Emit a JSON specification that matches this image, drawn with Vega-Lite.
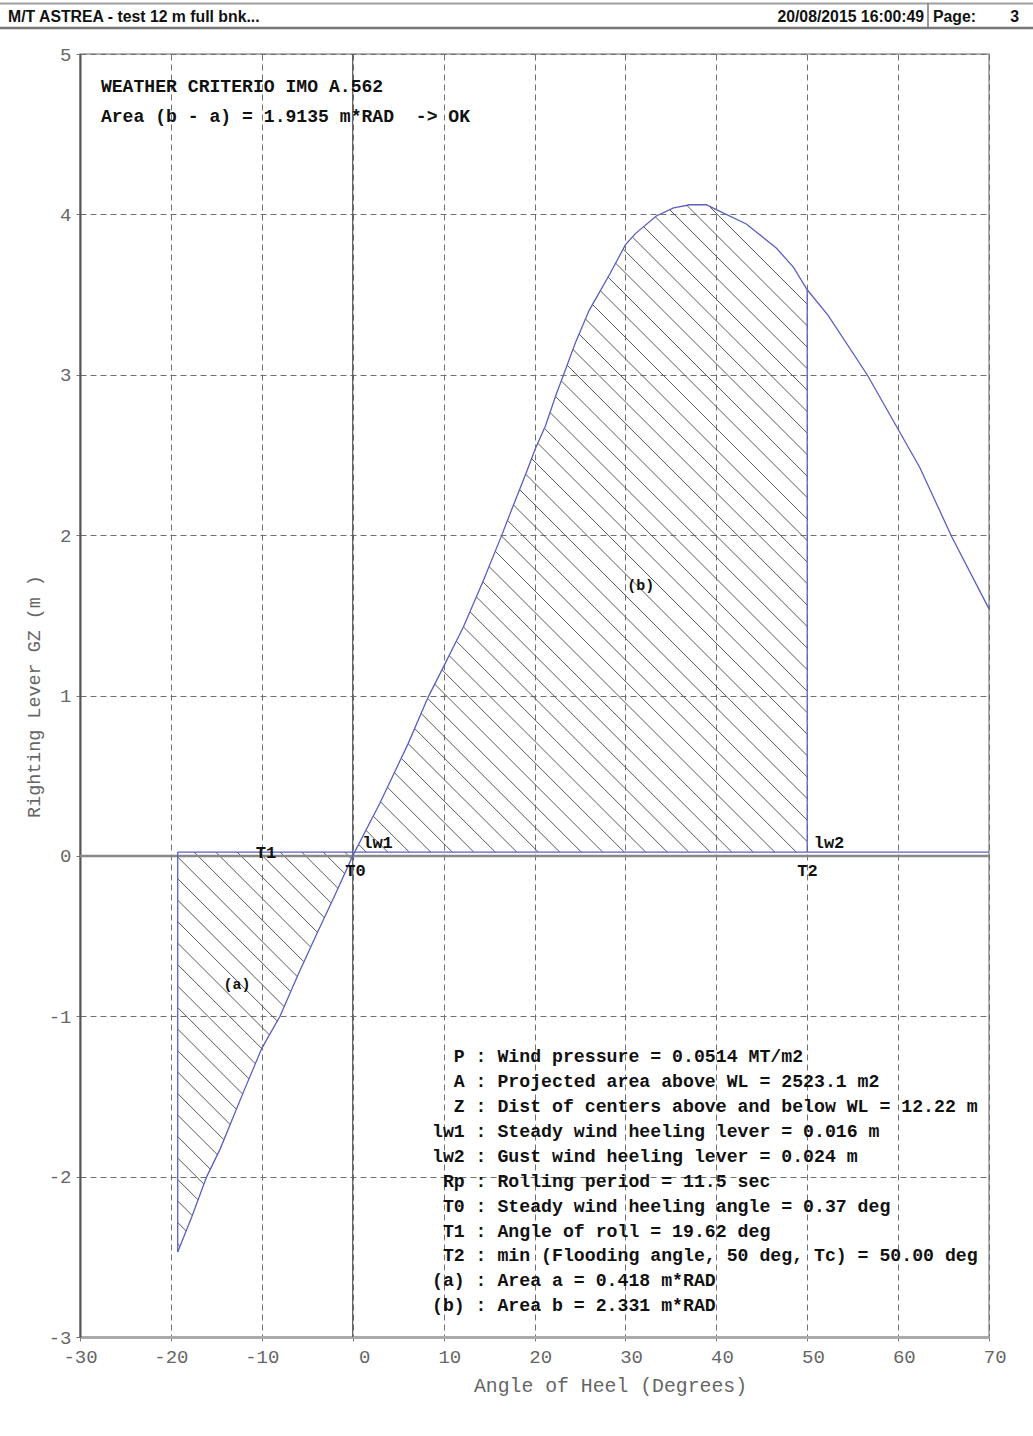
{
  "$schema": "https://vega.github.io/schema/vega-lite/v6.json",
  "width": 909,
  "height": 1283,
  "autosize": {"type": "none"},
  "padding": {"left": 80, "top": 54, "right": 44, "bottom": 99},
  "background": "white",
  "config": {
    "view": {"stroke": "#999999", "strokeWidth": 1.5}
  },
  "datasets": {
    "gz": [
      {"angle": -19.25, "gz": -2.47}, {"angle": -17.7, "gz": -2.25}, {"angle": -16.06, "gz": -2.0},
      {"angle": -14.6, "gz": -1.83}, {"angle": -12, "gz": -1.47}, {"angle": -10, "gz": -1.2},
      {"angle": -8, "gz": -1.0}, {"angle": -6, "gz": -0.74}, {"angle": -4.15, "gz": -0.51},
      {"angle": -2, "gz": -0.25}, {"angle": 0, "gz": 0}, {"angle": 3, "gz": 0.33},
      {"angle": 6.1, "gz": 0.7}, {"angle": 8.3, "gz": 0.99}, {"angle": 10, "gz": 1.18},
      {"angle": 12.2, "gz": 1.43}, {"angle": 14.4, "gz": 1.72}, {"angle": 16.4, "gz": 2.0},
      {"angle": 17.7, "gz": 2.19}, {"angle": 19.1, "gz": 2.39}, {"angle": 20.1, "gz": 2.54},
      {"angle": 21.2, "gz": 2.68}, {"angle": 22.4, "gz": 2.88}, {"angle": 23.2, "gz": 3.0},
      {"angle": 24.5, "gz": 3.2}, {"angle": 26, "gz": 3.4}, {"angle": 27.2, "gz": 3.52},
      {"angle": 28.3, "gz": 3.63}, {"angle": 30, "gz": 3.81}, {"angle": 31.1, "gz": 3.88},
      {"angle": 33.4, "gz": 3.99}, {"angle": 35.3, "gz": 4.04}, {"angle": 37.1, "gz": 4.06},
      {"angle": 38.9, "gz": 4.06}, {"angle": 40, "gz": 4.03}, {"angle": 43.3, "gz": 3.94},
      {"angle": 46.6, "gz": 3.79}, {"angle": 48.5, "gz": 3.67}, {"angle": 50, "gz": 3.53},
      {"angle": 52.3, "gz": 3.37}, {"angle": 56.6, "gz": 3.0}, {"angle": 60, "gz": 2.66},
      {"angle": 62.4, "gz": 2.42}, {"angle": 65.9, "gz": 1.99}, {"angle": 70, "gz": 1.54}
    ],
    "hatch": [
      {"area": "b", "angle_from": 0.65, "gz_from": 0.071, "angle_to": 1.49, "gz_to": 0.024},
      {"area": "b", "angle_from": 1.45, "gz_from": 0.16, "angle_to": 3.85, "gz_to": 0.024},
      {"area": "b", "angle_from": 2.26, "gz_from": 0.248, "angle_to": 6.22, "gz_to": 0.024},
      {"area": "b", "angle_from": 3.06, "gz_from": 0.337, "angle_to": 8.58, "gz_to": 0.024},
      {"area": "b", "angle_from": 3.82, "gz_from": 0.428, "angle_to": 10.95, "gz_to": 0.024},
      {"area": "b", "angle_from": 4.58, "gz_from": 0.519, "angle_to": 13.31, "gz_to": 0.024},
      {"area": "b", "angle_from": 5.34, "gz_from": 0.609, "angle_to": 15.68, "gz_to": 0.024},
      {"area": "b", "angle_from": 6.1, "gz_from": 0.7, "angle_to": 18.04, "gz_to": 0.024},
      {"area": "b", "angle_from": 6.82, "gz_from": 0.794, "angle_to": 20.41, "gz_to": 0.024},
      {"area": "b", "angle_from": 7.53, "gz_from": 0.888, "angle_to": 22.77, "gz_to": 0.024},
      {"area": "b", "angle_from": 8.24, "gz_from": 0.982, "angle_to": 25.14, "gz_to": 0.024},
      {"area": "b", "angle_from": 9.02, "gz_from": 1.071, "angle_to": 27.5, "gz_to": 0.024},
      {"area": "b", "angle_from": 9.82, "gz_from": 1.16, "angle_to": 29.87, "gz_to": 0.024},
      {"area": "b", "angle_from": 10.61, "gz_from": 1.249, "angle_to": 32.23, "gz_to": 0.024},
      {"area": "b", "angle_from": 11.39, "gz_from": 1.339, "angle_to": 34.6, "gz_to": 0.024},
      {"area": "b", "angle_from": 12.18, "gz_from": 1.428, "angle_to": 36.96, "gz_to": 0.024},
      {"area": "b", "angle_from": 12.9, "gz_from": 1.522, "angle_to": 39.33, "gz_to": 0.024},
      {"area": "b", "angle_from": 13.61, "gz_from": 1.615, "angle_to": 41.69, "gz_to": 0.024},
      {"area": "b", "angle_from": 14.32, "gz_from": 1.709, "angle_to": 44.06, "gz_to": 0.024},
      {"area": "b", "angle_from": 15.0, "gz_from": 1.804, "angle_to": 46.42, "gz_to": 0.024},
      {"area": "b", "angle_from": 15.68, "gz_from": 1.9, "angle_to": 48.79, "gz_to": 0.024},
      {"area": "b", "angle_from": 16.37, "gz_from": 1.995, "angle_to": 50, "gz_to": 0.089},
      {"area": "b", "angle_from": 17.03, "gz_from": 2.092, "angle_to": 50, "gz_to": 0.223},
      {"area": "b", "angle_from": 17.69, "gz_from": 2.188, "angle_to": 50, "gz_to": 0.357},
      {"area": "b", "angle_from": 18.36, "gz_from": 2.284, "angle_to": 50, "gz_to": 0.491},
      {"area": "b", "angle_from": 19.03, "gz_from": 2.38, "angle_to": 50, "gz_to": 0.625},
      {"area": "b", "angle_from": 19.68, "gz_from": 2.477, "angle_to": 50, "gz_to": 0.759},
      {"area": "b", "angle_from": 20.36, "gz_from": 2.573, "angle_to": 50, "gz_to": 0.893},
      {"area": "b", "angle_from": 21.09, "gz_from": 2.666, "angle_to": 50, "gz_to": 1.027},
      {"area": "b", "angle_from": 21.71, "gz_from": 2.765, "angle_to": 50, "gz_to": 1.161},
      {"area": "b", "angle_from": 22.31, "gz_from": 2.865, "angle_to": 50, "gz_to": 1.296},
      {"area": "b", "angle_from": 22.95, "gz_from": 2.962, "angle_to": 50, "gz_to": 1.43},
      {"area": "b", "angle_from": 23.59, "gz_from": 3.06, "angle_to": 50, "gz_to": 1.564},
      {"area": "b", "angle_from": 24.23, "gz_from": 3.158, "angle_to": 50, "gz_to": 1.698},
      {"area": "b", "angle_from": 24.9, "gz_from": 3.254, "angle_to": 50, "gz_to": 1.832},
      {"area": "b", "angle_from": 25.61, "gz_from": 3.348, "angle_to": 50, "gz_to": 1.966},
      {"area": "b", "angle_from": 26.38, "gz_from": 3.438, "angle_to": 50, "gz_to": 2.1},
      {"area": "b", "angle_from": 27.24, "gz_from": 3.524, "angle_to": 50, "gz_to": 2.234},
      {"area": "b", "angle_from": 28.09, "gz_from": 3.609, "angle_to": 50, "gz_to": 2.368},
      {"area": "b", "angle_from": 28.92, "gz_from": 3.696, "angle_to": 50, "gz_to": 2.502},
      {"area": "b", "angle_from": 29.75, "gz_from": 3.784, "angle_to": 50, "gz_to": 2.636},
      {"area": "b", "angle_from": 30.77, "gz_from": 3.859, "angle_to": 50, "gz_to": 2.77},
      {"area": "b", "angle_from": 32.01, "gz_from": 3.923, "angle_to": 50, "gz_to": 2.904},
      {"area": "b", "angle_from": 33.29, "gz_from": 3.985, "angle_to": 50, "gz_to": 3.038},
      {"area": "b", "angle_from": 34.88, "gz_from": 4.029, "angle_to": 50, "gz_to": 3.172},
      {"area": "b", "angle_from": 36.76, "gz_from": 4.056, "angle_to": 50, "gz_to": 3.306},
      {"area": "b", "angle_from": 39.22, "gz_from": 4.051, "angle_to": 50, "gz_to": 3.44},
      {"area": "a", "angle_from": -0.88, "gz_from": 0.024, "angle_to": -0.14, "gz_to": -0.018},
      {"area": "a", "angle_from": -3.25, "gz_from": 0.024, "angle_to": -0.88, "gz_to": -0.11},
      {"area": "a", "angle_from": -5.61, "gz_from": 0.024, "angle_to": -1.62, "gz_to": -0.202},
      {"area": "a", "angle_from": -7.98, "gz_from": 0.024, "angle_to": -2.37, "gz_to": -0.294},
      {"area": "a", "angle_from": -10.34, "gz_from": 0.024, "angle_to": -3.12, "gz_to": -0.385},
      {"area": "a", "angle_from": -12.71, "gz_from": 0.024, "angle_to": -3.88, "gz_to": -0.477},
      {"area": "a", "angle_from": -15.07, "gz_from": 0.024, "angle_to": -4.62, "gz_to": -0.569},
      {"area": "a", "angle_from": -17.44, "gz_from": 0.024, "angle_to": -5.36, "gz_to": -0.661},
      {"area": "a", "angle_from": -19.25, "gz_from": -0.007, "angle_to": -6.1, "gz_to": -0.753},
      {"area": "a", "angle_from": -19.25, "gz_from": -0.142, "angle_to": -6.82, "gz_to": -0.846},
      {"area": "a", "angle_from": -19.25, "gz_from": -0.276, "angle_to": -7.54, "gz_to": -0.94},
      {"area": "a", "angle_from": -19.25, "gz_from": -0.41, "angle_to": -8.3, "gz_to": -1.03},
      {"area": "a", "angle_from": -19.25, "gz_from": -0.544, "angle_to": -9.16, "gz_to": -1.116},
      {"area": "a", "angle_from": -19.25, "gz_from": -0.678, "angle_to": -10.01, "gz_to": -1.201},
      {"area": "a", "angle_from": -19.25, "gz_from": -0.812, "angle_to": -10.71, "gz_to": -1.296},
      {"area": "a", "angle_from": -19.25, "gz_from": -0.946, "angle_to": -11.41, "gz_to": -1.39},
      {"area": "a", "angle_from": -19.25, "gz_from": -1.08, "angle_to": -12.11, "gz_to": -1.485},
      {"area": "a", "angle_from": -19.25, "gz_from": -1.214, "angle_to": -12.79, "gz_to": -1.58},
      {"area": "a", "angle_from": -19.25, "gz_from": -1.348, "angle_to": -13.48, "gz_to": -1.675},
      {"area": "a", "angle_from": -19.25, "gz_from": -1.482, "angle_to": -14.17, "gz_to": -1.77},
      {"area": "a", "angle_from": -19.25, "gz_from": -1.616, "angle_to": -14.89, "gz_to": -1.863},
      {"area": "a", "angle_from": -19.25, "gz_from": -1.75, "angle_to": -15.66, "gz_to": -1.954},
      {"area": "a", "angle_from": -19.25, "gz_from": -1.884, "angle_to": -16.37, "gz_to": -2.047},
      {"area": "a", "angle_from": -19.25, "gz_from": -2.018, "angle_to": -17.01, "gz_to": -2.145},
      {"area": "a", "angle_from": -19.25, "gz_from": -2.152, "angle_to": -17.65, "gz_to": -2.243},
      {"area": "a", "angle_from": -19.25, "gz_from": -2.286, "angle_to": -18.32, "gz_to": -2.339},
      {"area": "a", "angle_from": -19.25, "gz_from": -2.42, "angle_to": -19.0, "gz_to": -2.434}
    ],
    "levers": [
      {"name": "lw2", "angle_from": -19.25, "gz_from": 0.024, "angle_to": 70, "gz_to": 0.024},
      {"name": "T0-T1", "angle_from": -19.25, "gz_from": -2.47, "angle_to": -19.25, "gz_to": 0.024},
      {"name": "T2", "angle_from": 50, "gz_from": 0.024, "angle_to": 50, "gz_to": 3.53}
    ],
    "point_labels": [
      {"label": "T1", "angle": -9.54, "gz": 0.019},
      {"label": "T0", "angle": 0.31, "gz": -0.094},
      {"label": "lw1", "angle": 2.73, "gz": 0.081},
      {"label": "lw2", "angle": 52.4, "gz": 0.083},
      {"label": "T2", "angle": 50.03, "gz": -0.094}
    ],
    "area_labels": [
      {"label": "(a)", "angle": -12.73, "gz": -0.8},
      {"label": "(b)", "angle": 31.69, "gz": 1.69}
    ],
    "one": [{}]
  },
  "layer": [
    {
      "data": {"name": "hatch"},
      "mark": {"type": "rule", "color": "#5a5a5a", "strokeWidth": 1},
      "encoding": {
        "x": {
          "field": "angle_from", "type": "quantitative",
          "scale": {"domain": [-30, 70], "nice": false, "zero": false},
          "axis": {
            "title": "Angle of Heel (Degrees)",
            "values": [-30, -20, -10, 0, 10, 20, 30, 40, 50, 60, 70],
            "grid": true, "gridDash": [6, 4], "gridColor": "#707070", "gridWidth": 1,
            "domainColor": "#aaaaaa", "domainWidth": 3,
            "tickColor": "#777777", "tickSize": 4,
            "labelFont": "Liberation Mono", "labelFontSize": 19, "labelColor": "#666666",
            "labelPadding": 6, "labelFlush": false, "labelOverlap": false,
            "labelExpr": "(datum.value < 0 ? '-' : datum.value == 0 ? '\u200b\u00a0\u00a0' : '\u200b\u00a0') + abs(datum.value)",
            "titleFont": "Liberation Mono", "titleFontSize": 19.8, "titleFontWeight": "normal",
            "titleColor": "#666666", "titleX": 530, "titleY": 48, "titleBaseline": "middle", "titleAlign": "center"
          }
        },
        "y": {
          "field": "gz_from", "type": "quantitative",
          "scale": {"domain": [-3, 5], "nice": false, "zero": false},
          "axis": {
            "title": "Righting Lever GZ (m )",
            "values": [-3, -2, -1, 0, 1, 2, 3, 4, 5],
            "grid": true, "gridDash": [6, 4], "gridColor": "#707070", "gridWidth": 1,
            "domainColor": "#555555", "domainWidth": 2,
            "tickColor": "#777777", "tickSize": 4,
            "labelFont": "Liberation Mono", "labelFontSize": 19, "labelColor": "#666666",
            "labelPadding": 5, "labelFlush": false, "labelOverlap": false,
            "labelExpr": "(datum.value < 0 ? '-' : '') + abs(datum.value)",
            "titleFont": "Liberation Mono", "titleFontSize": 18.4, "titleFontWeight": "normal",
            "titleColor": "#666666", "titleX": -47, "titleY": 642, "titleBaseline": "middle", "titleAlign": "center"
          }
        },
        "x2": {"field": "angle_to"},
        "y2": {"field": "gz_to"}
      }
    },
    {
      "data": {"name": "one"},
      "mark": {"type": "rule", "color": "#555555", "strokeWidth": 1.2},
      "encoding": {
        "x": {"datum": 0, "type": "quantitative", "scale": {"domain": [-30, 70], "nice": false, "zero": false}}
      }
    },
    {
      "data": {"name": "one"},
      "mark": {"type": "rule", "color": "#888888", "strokeWidth": 2.5},
      "encoding": {
        "y": {"datum": 0, "type": "quantitative", "scale": {"domain": [-3, 5], "nice": false, "zero": false}}
      }
    },
    {
      "data": {"name": "levers"},
      "mark": {"type": "rule", "color": "#5b5fc1", "strokeWidth": 1.3},
      "encoding": {
        "x": {"field": "angle_from", "type": "quantitative", "scale": {"domain": [-30, 70], "nice": false, "zero": false}},
        "y": {"field": "gz_from", "type": "quantitative", "scale": {"domain": [-3, 5], "nice": false, "zero": false}},
        "x2": {"field": "angle_to"},
        "y2": {"field": "gz_to"}
      }
    },
    {
      "data": {"name": "gz"},
      "mark": {"type": "line", "color": "#5b5fc1", "strokeWidth": 1.3},
      "encoding": {
        "x": {"field": "angle", "type": "quantitative", "scale": {"domain": [-30, 70], "nice": false, "zero": false}},
        "y": {"field": "gz", "type": "quantitative", "scale": {"domain": [-3, 5], "nice": false, "zero": false}}
      }
    },
    {
      "data": {"name": "point_labels"},
      "mark": {"type": "text", "font": "Liberation Mono", "fontWeight": "bold", "fontSize": 17, "color": "#111111", "align": "center", "baseline": "middle"},
      "encoding": {
        "x": {"field": "angle", "type": "quantitative", "scale": {"domain": [-30, 70], "nice": false, "zero": false}},
        "y": {"field": "gz", "type": "quantitative", "scale": {"domain": [-3, 5], "nice": false, "zero": false}},
        "text": {"field": "label"}
      }
    },
    {
      "data": {"name": "area_labels"},
      "mark": {"type": "text", "font": "Liberation Mono", "fontWeight": "bold", "fontSize": 15, "color": "#111111", "align": "center", "baseline": "middle"},
      "encoding": {
        "x": {"field": "angle", "type": "quantitative", "scale": {"domain": [-30, 70], "nice": false, "zero": false}},
        "y": {"field": "gz", "type": "quantitative", "scale": {"domain": [-3, 5], "nice": false, "zero": false}},
        "text": {"field": "label"}
      }
    },
    {
      "data": {"name": "one"},
      "mark": {
        "type": "text", "font": "Liberation Mono", "fontWeight": "bold", "fontSize": 18.1, "color": "#111111",
        "align": "left", "baseline": "alphabetic", "lineHeight": 30.3,
        "text": ["WEATHER CRITERIO IMO A.562", "Area (b - a) = 1.9135 m*RAD\u00a0\u00a0-> OK"]
      },
      "encoding": {
        "x": {"datum": -27.7, "type": "quantitative", "scale": {"domain": [-30, 70], "nice": false, "zero": false}},
        "y": {"datum": 4.766, "type": "quantitative", "scale": {"domain": [-3, 5], "nice": false, "zero": false}}
      }
    },
    {
      "data": {"name": "one"},
      "mark": {
        "type": "text", "font": "Liberation Mono", "fontWeight": "bold", "fontSize": 18.2, "color": "#111111",
        "align": "left", "baseline": "alphabetic", "lineHeight": 24.9,
        "text": [
          "\u200b\u00a0\u00a0P : Wind pressure = 0.0514 MT/m2",
          "\u200b\u00a0\u00a0A : Projected area above WL = 2523.1 m2",
          "\u200b\u00a0\u00a0Z : Dist of centers above and below WL = 12.22 m",
          "lw1 : Steady wind heeling lever = 0.016 m",
          "lw2 : Gust wind heeling lever = 0.024 m",
          "\u200b\u00a0Rp : Rolling period = 11.5 sec",
          "\u200b\u00a0T0 : Steady wind heeling angle = 0.37 deg",
          "\u200b\u00a0T1 : Angle of roll = 19.62 deg",
          "\u200b\u00a0T2 : min (Flooding angle, 50 deg, Tc) = 50.00 deg",
          "(a) : Area a = 0.418 m*RAD",
          "(b) : Area b = 2.331 m*RAD"
        ]
      },
      "encoding": {
        "x": {"datum": 8.72, "type": "quantitative", "scale": {"domain": [-30, 70], "nice": false, "zero": false}},
        "y": {"datum": -1.287, "type": "quantitative", "scale": {"domain": [-3, 5], "nice": false, "zero": false}}
      }
    },
    {
      "data": {"name": "one"},
      "mark": {"type": "rule", "color": "#a0a0a0", "strokeWidth": 2},
      "encoding": {
        "x": {"datum": -38.8, "type": "quantitative", "scale": {"domain": [-30, 70], "nice": false, "zero": false}},
        "x2": {"datum": 74.84},
        "y": {"datum": 5.315, "type": "quantitative", "scale": {"domain": [-3, 5], "nice": false, "zero": false}}
      }
    },
    {
      "data": {"name": "one"},
      "mark": {"type": "rule", "color": "#777777", "strokeWidth": 2.5},
      "encoding": {
        "x": {"datum": -38.8, "type": "quantitative", "scale": {"domain": [-30, 70], "nice": false, "zero": false}},
        "x2": {"datum": 74.84},
        "y": {"datum": 5.162, "type": "quantitative", "scale": {"domain": [-3, 5], "nice": false, "zero": false}}
      }
    },
    {
      "data": {"name": "one"},
      "mark": {"type": "rule", "color": "#777777", "strokeWidth": 1.5},
      "encoding": {
        "x": {"datum": 63.29, "type": "quantitative", "scale": {"domain": [-30, 70], "nice": false, "zero": false}},
        "y": {"datum": 5.315, "type": "quantitative", "scale": {"domain": [-3, 5], "nice": false, "zero": false}},
        "y2": {"datum": 5.162}
      }
    },
    {
      "data": {"name": "one"},
      "mark": {"type": "text", "font": "Liberation Sans", "fontWeight": "bold", "fontSize": 15.8, "color": "#111111", "align": "left", "baseline": "alphabetic", "text": "M/T ASTREA - test 12 m full bnk..."},
      "encoding": {
        "x": {"datum": -37.92, "type": "quantitative", "scale": {"domain": [-30, 70], "nice": false, "zero": false}},
        "y": {"datum": 5.2, "type": "quantitative", "scale": {"domain": [-3, 5], "nice": false, "zero": false}}
      }
    },
    {
      "data": {"name": "one"},
      "mark": {"type": "text", "font": "Liberation Sans", "fontWeight": "bold", "fontSize": 15.8, "color": "#111111", "align": "right", "baseline": "alphabetic", "text": "20/08/2015 16:00:49"},
      "encoding": {
        "x": {"datum": 62.86, "type": "quantitative", "scale": {"domain": [-30, 70], "nice": false, "zero": false}},
        "y": {"datum": 5.2, "type": "quantitative", "scale": {"domain": [-3, 5], "nice": false, "zero": false}}
      }
    },
    {
      "data": {"name": "one"},
      "mark": {"type": "text", "font": "Liberation Sans", "fontWeight": "bold", "fontSize": 15.8, "color": "#111111", "align": "left", "baseline": "alphabetic", "text": "Page:"},
      "encoding": {
        "x": {"datum": 63.84, "type": "quantitative", "scale": {"domain": [-30, 70], "nice": false, "zero": false}},
        "y": {"datum": 5.2, "type": "quantitative", "scale": {"domain": [-3, 5], "nice": false, "zero": false}}
      }
    },
    {
      "data": {"name": "one"},
      "mark": {"type": "text", "font": "Liberation Sans", "fontWeight": "bold", "fontSize": 15.8, "color": "#111111", "align": "left", "baseline": "alphabetic", "text": "3"},
      "encoding": {
        "x": {"datum": 72.33, "type": "quantitative", "scale": {"domain": [-30, 70], "nice": false, "zero": false}},
        "y": {"datum": 5.2, "type": "quantitative", "scale": {"domain": [-3, 5], "nice": false, "zero": false}}
      }
    }
  ]
}
